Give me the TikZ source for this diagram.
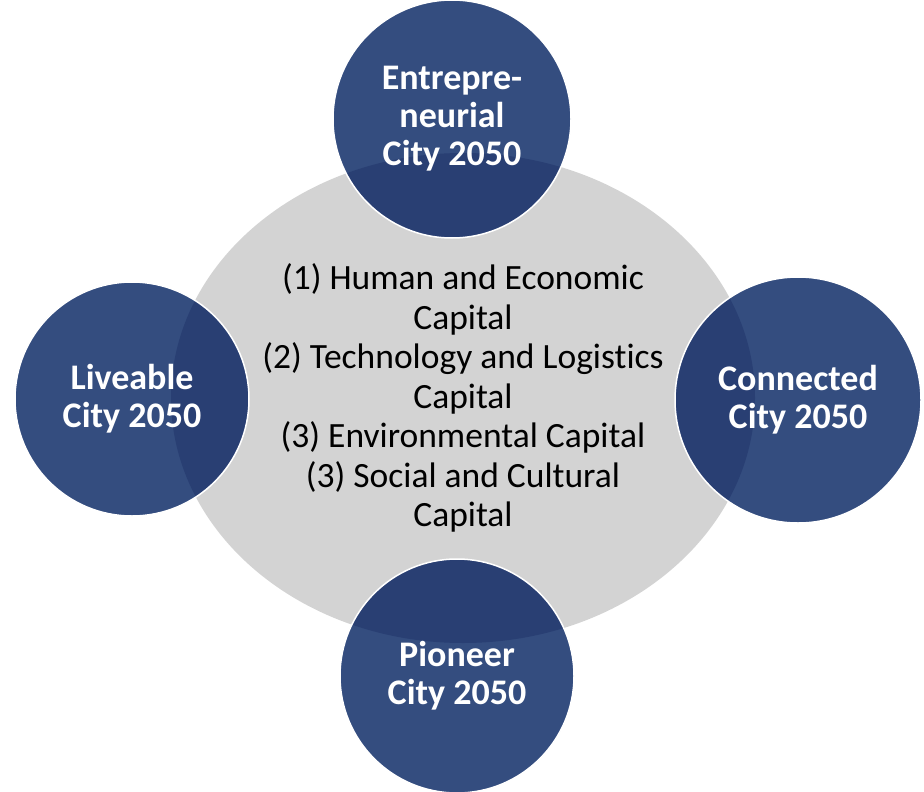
\documentclass[tikz,border=0pt]{standalone}
\usepackage{fontspec}
\setmainfont{Carlito}[Ligatures = NoCommon]
\usetikzlibrary{shapes.geometric, positioning}
\definecolor{cblue}{HTML}{344D7F}
\definecolor{cdark}{HTML}{293F73}
\definecolor{cgray}{HTML}{D3D3D3}
\tikzstyle{capital} = [ellipse, minimum width = 584pt, minimum height = 490pt, inner sep = 0pt, fill = cgray]
\tikzstyle{captext} = [align = center, inner sep = 0pt, text = black, font = \fontsize{35.5}{39.5}\selectfont]
\tikzstyle{city} = [circle, minimum size = 234pt, inner sep = 0pt, fill = cblue, draw = white, line width = 1.5pt,
  text = white, align = center, font = \bfseries\fontsize{36}{38}\selectfont,
  path picture = {\fill [cdark] (cap.center) ellipse [x radius = 292pt, y radius = 245pt];}]

\begin{document}
\begin{tikzpicture}[x = 1pt, y = -1pt]
  \useasboundingbox (0,0) rectangle (924,792);
  \node (cap) [capital] at (463,398) {};
  \node (captxt) [captext] at (cap) {(1) Human and Economic\\Capital\\(2) Technology and Logistics\\Capital\\(3) Environmental Capital\\(3) Social and Cultural\\Capital};
  \node (ent) [city, minimum size = 238pt] at (452,119) {Entrepre-\\neurial\\City 2050};
  \node (liv) [city] at (132,399) {Liveable\\City 2050};
  \node (con) [city, minimum size = 246pt] at (798,400) {Connected\\City 2050};
  \node (pio) [city] at (457,676) {Pioneer\\City 2050};
\end{tikzpicture}
\end{document}
